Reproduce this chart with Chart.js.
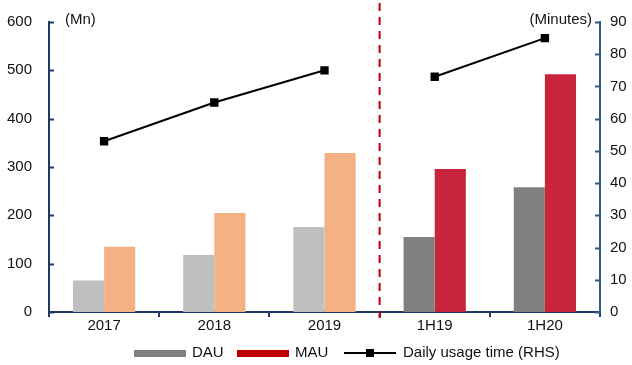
<!DOCTYPE html>
<html>
<head>
<meta charset="utf-8">
<script src="https://cdn.jsdelivr.net/npm/chart.js@4"></script>
<style>
  html, body { margin: 0; padding: 0; background: #fff; }
  #wrap { width: 632px; height: 365px; position: relative; }
</style>
</head>
<body>
<div id="wrap"><canvas id="c" width="632" height="365"></canvas></div>
<script>
// Periods: three full years, then two half-year periods
const categories = ['2017', '2018', '2019', '1H19', '1H20'];
const dauValues = [65, 118, 176, 155, 258];      // Mn
const mauValues = [135, 205, 329, 296, 492];     // Mn
const usageMinutes = [53, 65, 75, 73, 85];       // minutes per day (RHS)
const leftTicks = [0, 100, 200, 300, 400, 500, 600];
const rightTicks = [0, 10, 20, 30, 40, 50, 60, 70, 80, 90];

const FONT = 'Liberation Sans, Arial, sans-serif';
const FONT_SIZE = 15;
const NAVY = '#1f3864';
const RIGHT_BLUE = '#2f5b86';

// Full-year bars are pale, half-year bars are solid
const dauColors = categories.map((c, i) => i < 3 ? '#bfbfbf' : '#808080');
const mauColors = categories.map((c, i) => i < 3 ? '#f4b183' : '#c8243b');

const extras = {
  id: 'extras',
  afterDraw(chart) {
    const ctx = chart.ctx;
    const x = chart.scales.x, yl = chart.scales.y, yr = chart.scales.y1;
    const area = chart.chartArea;
    const byId = id => chart.data.datasets.find(d => d.id === id);
    ctx.save();

    // inward tick marks on both value axes
    ctx.lineWidth = 2;
    ctx.strokeStyle = NAVY;
    leftTicks.forEach(v => {
      const py = Math.round(yl.getPixelForValue(v)) + 0.5;
      ctx.beginPath(); ctx.moveTo(area.left, py); ctx.lineTo(area.left + 5, py); ctx.stroke();
    });
    ctx.strokeStyle = RIGHT_BLUE;
    rightTicks.forEach(v => {
      const py = Math.round(yr.getPixelForValue(v)) + 0.5;
      ctx.beginPath(); ctx.moveTo(area.right - 5, py); ctx.lineTo(area.right, py); ctx.stroke();
    });

    // divider between annual and half-year periods
    const dx = (x.getPixelForValue(2) + x.getPixelForValue(3)) / 2;
    ctx.strokeStyle = '#c00000';
    ctx.lineWidth = 2;
    ctx.setLineDash([8, 6]);
    ctx.beginPath(); ctx.moveTo(dx, 3); ctx.lineTo(dx, area.bottom + 6); ctx.stroke();
    ctx.setLineDash([]);

    // unit labels
    ctx.fillStyle = '#111';
    ctx.font = FONT_SIZE + 'px ' + FONT;
    ctx.textBaseline = 'middle';
    ctx.textAlign = 'left';
    ctx.fillText('(Mn)', 65, 20);
    ctx.textAlign = 'right';
    ctx.fillText('(Minutes)', 592, 20);

    // legend
    const ly = 353;
    ctx.textAlign = 'left';
    ctx.fillStyle = '#808080';
    ctx.fillRect(134, ly - 3, 52, 7);
    ctx.fillStyle = '#111';
    ctx.fillText(byId('dau').label, 192, ly);
    ctx.fillStyle = '#c00000';
    ctx.fillRect(237, ly - 3, 52, 7);
    ctx.fillStyle = '#111';
    ctx.fillText(byId('mau').label, 295, ly);
    ctx.strokeStyle = '#000';
    ctx.lineWidth = 2;
    ctx.beginPath(); ctx.moveTo(344, ly); ctx.lineTo(396, ly); ctx.stroke();
    ctx.fillStyle = '#000';
    ctx.fillRect(366, ly - 4, 8, 8);
    ctx.fillStyle = '#111';
    ctx.fillText(byId('usage').label, 403, ly);
    ctx.restore();
  }
};

new Chart(document.getElementById('c'), {
  data: {
    labels: categories,
    datasets: [
      {
        id: 'usage', type: 'line', label: 'Daily usage time (RHS)', data: usageMinutes, yAxisID: 'y1',
        borderColor: '#000', borderWidth: 2, pointStyle: 'rect', pointRadius: 4.5,
        pointBackgroundColor: '#000', pointBorderColor: '#000', order: 0,
        segment: { borderColor: c => c.p0DataIndex === 2 ? 'rgba(0,0,0,0)' : '#000' }
      },
      {
        id: 'dau', type: 'bar', label: 'DAU', data: dauValues, yAxisID: 'y',
        backgroundColor: dauColors, categoryPercentage: 0.565, barPercentage: 1, order: 1
      },
      {
        id: 'mau', type: 'bar', label: 'MAU', data: mauValues, yAxisID: 'y',
        backgroundColor: mauColors, categoryPercentage: 0.565, barPercentage: 1, order: 1
      }
    ]
  },
  options: {
    responsive: false,
    animation: false,
    layout: { padding: { top: 22, bottom: 28, left: 0, right: 0 } },
    plugins: { legend: { display: false }, tooltip: { enabled: false } },
    scales: {
      x: {
        offset: true,
        grid: { display: true, drawOnChartArea: false, drawTicks: true, tickLength: 5, color: NAVY, lineWidth: 2, offset: true },
        border: { color: NAVY, width: 2 },
        ticks: { color: '#111', font: { family: FONT, size: FONT_SIZE }, padding: 0 },
        afterFit: s => { s.height = 25; }
      },
      y: {
        position: 'left', min: 0, max: 600,
        afterBuildTicks: s => { s.ticks = leftTicks.map(v => ({ value: v })); },
        grid: { display: false },
        border: { color: NAVY, width: 2 },
        ticks: { color: '#111', font: { family: FONT, size: FONT_SIZE }, padding: 9 },
        afterFit: s => { s.width = 49; }
      },
      y1: {
        position: 'right', min: 0, max: 90,
        afterBuildTicks: s => { s.ticks = rightTicks.map(v => ({ value: v })); },
        grid: { display: false },
        border: { color: RIGHT_BLUE, width: 2 },
        ticks: { color: '#111', font: { family: FONT, size: FONT_SIZE }, padding: 2 },
        afterFit: s => { s.width = 32; }
      }
    }
  },
  plugins: [extras]
});
</script>
</body>
</html>
